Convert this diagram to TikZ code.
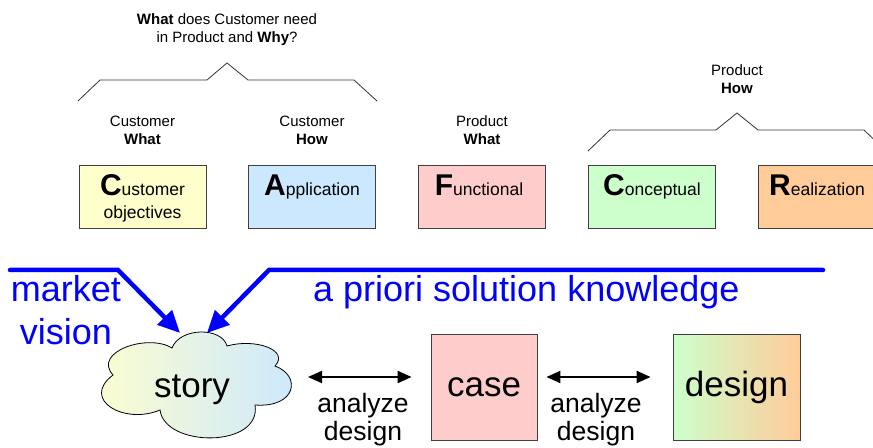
\documentclass[tikz,border=0pt]{standalone}
\usepackage{fontspec}
\setmainfont{Liberation Sans}
\usetikzlibrary{arrows.meta}
\definecolor{cyel}{HTML}{FFFFCC}
\definecolor{cblu}{HTML}{CCE8FF}
\definecolor{cpnk}{HTML}{FFCCCC}
\definecolor{cgrn}{HTML}{CCFFCC}
\definecolor{corg}{HTML}{FFCC99}
\definecolor{cblue}{HTML}{0000FF}
\newcommand\initl[1]{{\fontsize{30bp}{30bp}\selectfont\bfseries #1}}
\newcommand\fsz[2]{\fontsize{#1bp}{#2bp}\selectfont}
\tikzset{
  lbl/.style={font=\fsz{15}{18}, align=center, inner sep=0pt, anchor=base},
  boxnode/.style={draw=black!75, line width=0.8bp, minimum width=127bp, minimum height=63bp, inner sep=0pt},
  boxtxt/.style={font=\fsz{17.5}{23}, align=center, inner sep=0pt, anchor=base},
  bigbox/.style={draw=black!75, line width=0.8bp, minimum width=106bp, minimum height=106bp, inner sep=0pt,
    font=\fsz{35}{40}, text height=25bp, text depth=7bp},
  bluetxt/.style={font=\fsz{36}{43}, text=cblue, inner sep=0pt, align=center},
  bluearr/.style={draw=cblue, line width=4.5bp, line cap=round, -{Triangle[length=22bp,width=20bp]}},
  brace/.style={draw=black!80, line width=0.8bp},
  dbl/.style={draw=black, line width=2bp, {Triangle[length=14bp,width=12bp]}-{Triangle[length=14bp,width=12bp]}},
  ana/.style={font=\fsz{26.5}{28}, align=center, inner sep=0pt, anchor=base},
}
\begin{document}
\begin{tikzpicture}[x=1bp,y=-1bp]
\useasboundingbox (0,0) rectangle (873,448);
\clip (0,0) rectangle (873,448);

% top labels (anchor=base is the baseline of the last line)
\node[lbl] (q) at (227,42.5) {\textbf{What} does Customer need\\in Product and \textbf{Why}?};
\node[lbl] (cw) at (142.5,144.5) {Customer\\\textbf{What}};
\node[lbl] (ch) at (312,144.5) {Customer\\\textbf{How}};
\node[lbl] (pw) at (482,144.5) {Product\\\textbf{What}};
\node[lbl] (ph) at (737,93.5) {Product\\\textbf{How}};

% braces
\draw[brace] (78,101) -- (100,80) -- (207,80) -- (227,63) -- (248,80) -- (354,80) -- (377,101);
\draw[brace] (588,151) -- (610,130) -- (716,130) -- (737,113) -- (758,130) -- (864,130) -- (886,151);

% top boxes
\node[boxnode, fill=cyel] (cust) at (142.5,196.5) {};
\node[boxnode, fill=cblu] (app) at (312,196.5) {};
\node[boxnode, fill=cpnk] (func) at (482,196.5) {};
\node[boxnode, fill=cgrn] (conc) at (652,196.5) {};
\node[boxnode, fill=corg] (real) at (822,196.5) {};
\node[boxtxt] (custT) at (142.5,219) {\initl{C}ustomer\\objectives};
\node[boxtxt] (appT) at (312,196) {\initl{A}pplication};
\node[boxtxt] (funcT) at (479,196) {\initl{F}unctional};
\node[boxtxt] (concT) at (652,196) {\initl{C}onceptual};
\node[boxtxt] (realT) at (817,196) {\initl{R}ealization};

% cloud
\path[draw=black, line width=0.8bp, left color=cyel, right color=cblu]
  (113,375) .. controls (92,352) and (148,333) .. (172,348)
  .. controls (180,327) and (222,327) .. (227,346)
  .. controls (255,338) and (290,350) .. (275,366)
  .. controls (302,376) and (296,408) .. (255,405)
  .. controls (262,448) and (165,448) .. (160,410)
  .. controls (125,425) and (80,400) .. (113,375) -- cycle;
\node[inner sep=0pt, font=\fsz{35}{40}, text height=25bp, text depth=7bp] (story) at (192,388) {story};
\coordinate (cloudE) at (292,377);

% bottom boxes
\node[bigbox, fill=cpnk] (case) at (484,387.5) {case};
\node[bigbox, left color=cgrn, right color=corg, minimum width=127bp] (design) at (736.5,387.5) {design};

% blue arrows
\coordinate (m0) at (10,270);
\coordinate (m1) at (118,270);
\coordinate (tipA) at (180,333);
\coordinate (k0) at (823,270);
\coordinate (k1) at (269,270);
\coordinate (tipB) at (207,333);
\draw[bluearr] (m0) -- (m1) -- (tipA);
\draw[bluearr] (k0) -- (k1) -- (tipB);
\node[bluetxt, anchor=base] (mv) at (66,345) {market\\vision};
\node[bluetxt, anchor=base west] (apk) at (313,302) {a priori solution knowledge};

% double arrows
\draw[dbl, shorten <=16bp, shorten >=19bp] (cloudE) -- (cloudE -| case.west);
\coordinate (caseE) at (case.east |- cloudE);
\draw[dbl, shorten <=9bp, shorten >=22bp] (caseE) -- (caseE -| design.west);
\node[ana] (ad1) at (363,440) {analyze\\design};
\node[ana] (ad2) at (596,440) {analyze\\design};
\end{tikzpicture}
\end{document}
